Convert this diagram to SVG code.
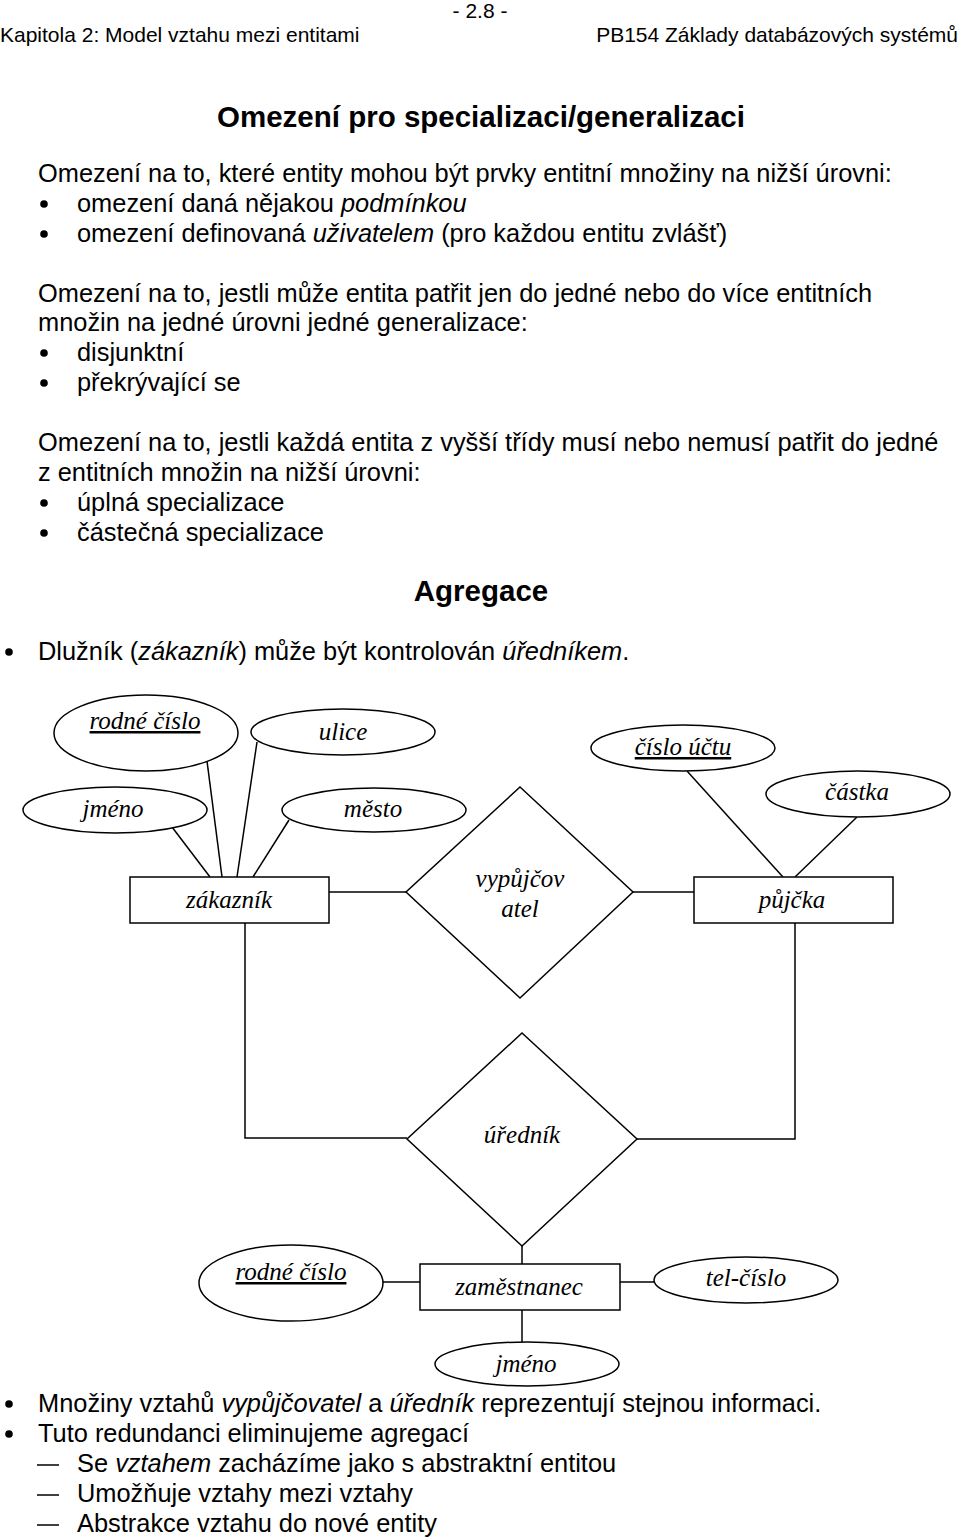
<svg xmlns="http://www.w3.org/2000/svg" width="960" height="1538" viewBox="0 0 960 1538">
<style>
.t{font-family:"Liberation Sans",Arial,sans-serif;font-size:25.4px;fill:#000}
.h{font-family:"Liberation Sans",Arial,sans-serif;font-size:21px;fill:#000}
.b{font-family:"Liberation Sans",Arial,sans-serif;font-size:29.5px;font-weight:bold;fill:#000}
.d{font-family:"Liberation Serif","Times New Roman",serif;font-size:25px;font-style:italic;fill:#000;text-anchor:middle}
.u{text-decoration:underline}
.s{fill:#fff;stroke:#000;stroke-width:1.5}
.c{fill:none;stroke:#000;stroke-width:1.5}
.i{font-style:italic}
</style>
<rect width="960" height="1538" fill="#fff"/>
<g id="text-top">
<text class="h" x="480" y="18" text-anchor="middle">- 2.8 -</text>
<text class="h" x="0" y="42">Kapitola 2: Model vztahu mezi entitami</text>
<text class="h" x="958" y="42" text-anchor="end">PB154 Základy databázových systémů</text>
<text class="b" x="481" y="127" text-anchor="middle">Omezení pro specializaci/generalizaci</text>
<text class="t" x="38" y="182">Omezení na to, které entity mohou být prvky entitní množiny na nižší úrovni:</text>
<circle cx="44" cy="204" r="3.8"/>
<text class="t" x="77" y="212">omezení daná nějakou <tspan class="i">podmínkou</tspan></text>
<circle cx="44" cy="234" r="3.8"/>
<text class="t" x="77" y="242">omezení definovaná <tspan class="i">uživatelem</tspan> (pro každou entitu zvlášť)</text>
<text class="t" x="38" y="302">Omezení na to, jestli může entita patřit jen do jedné nebo do více entitních</text>
<text class="t" x="38" y="331">množin na jedné úrovni jedné generalizace:</text>
<circle cx="44" cy="353" r="3.8"/>
<text class="t" x="77" y="361">disjunktní</text>
<circle cx="44" cy="383" r="3.8"/>
<text class="t" x="77" y="391">překrývající se</text>
<text class="t" x="38" y="451">Omezení na to, jestli každá entita z vyšší třídy musí nebo nemusí patřit do jedné</text>
<text class="t" x="38" y="481">z entitních množin na nižší úrovni:</text>
<circle cx="44" cy="503" r="3.8"/>
<text class="t" x="77" y="511">úplná specializace</text>
<circle cx="44" cy="533" r="3.8"/>
<text class="t" x="77" y="541">částečná specializace</text>
<text class="b" x="481" y="601" text-anchor="middle">Agregace</text>
<circle cx="9" cy="652" r="3.8"/>
<text class="t" x="38" y="660">Dlužník (<tspan class="i">zákazník</tspan>) může být kontrolován <tspan class="i">úředníkem</tspan>.</text>
</g>
<g id="connectors">
<line class="c" x1="172" y1="827" x2="210" y2="877"/>
<line class="c" x1="207" y1="761" x2="222" y2="877"/>
<line class="c" x1="257" y1="742" x2="237" y2="877"/>
<line class="c" x1="289" y1="820" x2="253" y2="877"/>
<line class="c" x1="329" y1="892" x2="406" y2="892"/>
<line class="c" x1="633" y1="892" x2="694" y2="892"/>
<line class="c" x1="687" y1="771" x2="783" y2="877"/>
<line class="c" x1="857" y1="817" x2="795" y2="877"/>
<polyline class="c" points="245,923 245,1138 407,1138"/>
<polyline class="c" points="795,923 795,1139 637,1139"/>
<line class="c" x1="522" y1="1246" x2="522" y2="1264"/>
<line class="c" x1="383" y1="1282" x2="420" y2="1282"/>
<line class="c" x1="620" y1="1282" x2="654" y2="1282"/>
<line class="c" x1="522" y1="1310" x2="522" y2="1342"/>
</g>
<g id="attr-rodne-cislo-1"><ellipse class="s" cx="146" cy="733" rx="92" ry="38"/><text class="d u" x="145" y="729">rodné číslo</text></g>
<g id="attr-ulice"><ellipse class="s" cx="343" cy="732" rx="92" ry="23"/><text class="d" x="343" y="740">ulice</text></g>
<g id="attr-jmeno-1"><ellipse class="s" cx="115" cy="810" rx="92" ry="23"/><text class="d" x="113" y="817">jméno</text></g>
<g id="attr-mesto"><ellipse class="s" cx="374" cy="810" rx="92" ry="22"/><text class="d" x="373" y="817">město</text></g>
<g id="attr-cislo-uctu"><ellipse class="s" cx="683" cy="748" rx="92" ry="23"/><text class="d u" x="683" y="755">číslo účtu</text></g>
<g id="attr-castka"><ellipse class="s" cx="858" cy="794" rx="92" ry="23"/><text class="d" x="857" y="800">částka</text></g>
<g id="ent-zakaznik"><rect class="s" x="130" y="877" width="199" height="46"/><text class="d" x="229" y="908">zákazník</text></g>
<g id="ent-pujcka"><rect class="s" x="694" y="877" width="199" height="46"/><text class="d" x="792" y="908">půjčka</text></g>
<g id="rel-vypujcovatel"><polygon class="s" points="520,787 633,892 520,998 406,892"/><text class="d" x="520" y="887">vypůjčov</text><text class="d" x="520" y="917">atel</text></g>
<g id="rel-urednik"><polygon class="s" points="522,1033 637,1139 522,1246 407,1139"/><text class="d" x="522" y="1143">úředník</text></g>
<g id="ent-zamestnanec"><rect class="s" x="420" y="1264" width="200" height="46"/><text class="d" x="519" y="1295">zaměstnanec</text></g>
<g id="attr-rodne-cislo-2"><ellipse class="s" cx="291" cy="1283" rx="92" ry="38"/><text class="d u" x="291" y="1280">rodné číslo</text></g>
<g id="attr-tel-cislo"><ellipse class="s" cx="746" cy="1280" rx="92" ry="23"/><text class="d" x="746" y="1286">tel-číslo</text></g>
<g id="attr-jmeno-2"><ellipse class="s" cx="527" cy="1364" rx="92" ry="22"/><text class="d" x="526" y="1372">jméno</text></g>
<g id="text-bottom">
<circle cx="9" cy="1404" r="3.8"/>
<text class="t" x="38" y="1412">Množiny vztahů <tspan class="i">vypůjčovatel</tspan> a <tspan class="i">úředník</tspan> reprezentují stejnou informaci.</text>
<circle cx="9" cy="1434" r="3.8"/>
<text class="t" x="38" y="1442">Tuto redundanci eliminujeme agregací</text>
<line x1="37" y1="1465" x2="59" y2="1465" stroke="#000" stroke-width="1.5"/>
<text class="t" x="77" y="1472">Se <tspan class="i">vztahem</tspan> zacházíme jako s abstraktní entitou</text>
<line x1="37" y1="1495" x2="59" y2="1495" stroke="#000" stroke-width="1.5"/>
<text class="t" x="77" y="1502">Umožňuje vztahy mezi vztahy</text>
<line x1="37" y1="1525" x2="59" y2="1525" stroke="#000" stroke-width="1.5"/>
<text class="t" x="77" y="1532">Abstrakce vztahu do nové entity</text>
</g>
</svg>
